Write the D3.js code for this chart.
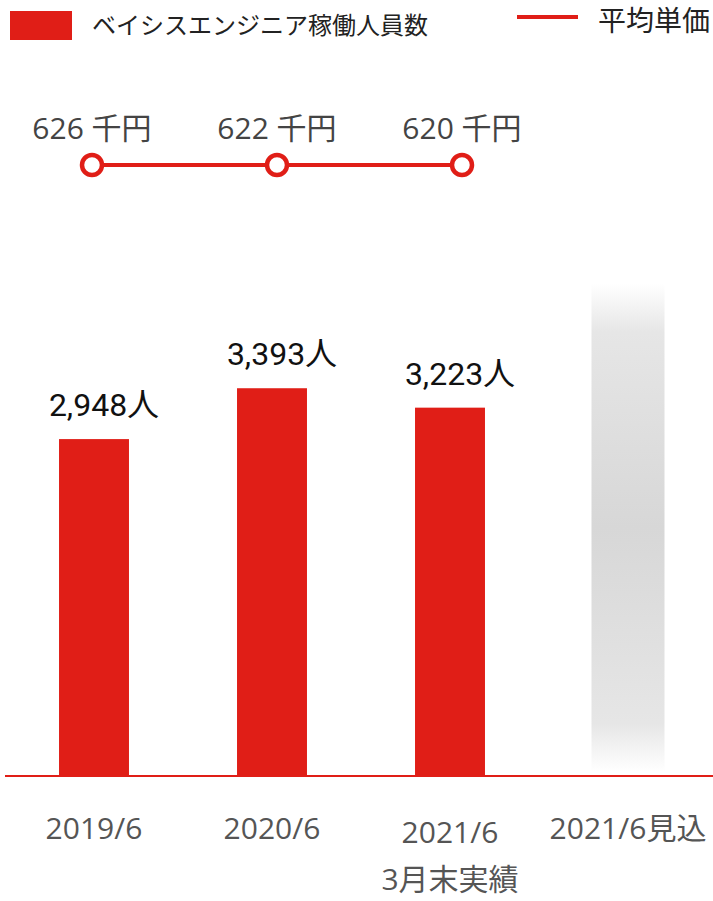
<!DOCTYPE html>
<html><head><meta charset="utf-8">
<script src="https://cdn.jsdelivr.net/npm/d3@7"></script>
<style>
html,body{margin:0;padding:0;background:#fff;}
svg{display:block;}
</style>
</head><body>
<svg id="chart" width="713" height="901"></svg>
<script>
const categories = ["2019/6", "2020/6", "2021/6", "2021/6見込"];
const categorySubLabels = ["", "", "3月末実績", ""];
const headcount = [2948, 3393, 3223, null];
const placeholder = [null, null, null, 4310];
const priceCategories = ["2019/6", "2020/6", "2021/6"];
const unitPrice = [626, 622, 620];
const legendLabels = ["ベイシスエンジニア稼働人員数", "平均単価"];

const RED = "#e01e17";
const JP = "'Noto Sans CJK JP','Noto Sans',sans-serif";

const svg = d3.select("#chart");
const defs = svg.append("defs");
const g1 = defs.append("linearGradient").attr("id","fade").attr("x1",0).attr("y1",0).attr("x2",0).attr("y2",1);
[[0,"#ffffff",1],[0.1,"#e6e6e6",1],[0.5,"#d7d7d7",1],[0.9,"#e6e6e6",1],[1,"#ffffff",1]].forEach(s=>{
  g1.append("stop").attr("offset",s[0]).attr("stop-color",s[1]).attr("stop-opacity",s[2]);
});

const x = d3.scaleBand().domain(categories).range([5, 717]).paddingInner(0.607).paddingOuter(0.3035);
const y = d3.scaleLinear().domain([0, 6790]).range([776, 0]);

// placeholder bar
svg.append("g").selectAll("rect").data(categories.map((c,i)=>({c,v:placeholder[i]})).filter(d=>d.v!=null))
  .join("rect")
  .attr("x", d => x(d.c) + x.bandwidth()/2 - 36.5)
  .attr("width", 73)
  .attr("y", d => y(d.v))
  .attr("height", d => y(0) - y(d.v) - 4)
  .attr("fill", "url(#fade)");

// bars
const barData = categories.map((c,i)=>({c,v:headcount[i]})).filter(d=>d.v!=null);
svg.append("g").selectAll("rect").data(barData).join("rect")
  .attr("x", d => x(d.c)).attr("width", x.bandwidth())
  .attr("y", d => y(d.v)).attr("height", d => y(0) - y(d.v))
  .attr("fill", RED);

// bar labels
svg.append("g").selectAll("text").data(barData).join("text")
  .attr("x", d => x(d.c) + x.bandwidth()/2 + 10)
  .attr("y", d => y(d.v) - 23)
  .attr("text-anchor","middle")
  .attr("font-family","Roboto, 'Noto Sans CJK JP', sans-serif")
  .attr("font-size", 32)
  .attr("fill","#111")
  .text(d => d3.format(",")(d.v) + "人");

// baseline axis
const xAxis = d3.axisBottom(x).tickSize(0).tickFormat("");
const ax = svg.append("g").attr("transform", `translate(0,${y(0)})`).call(xAxis);
ax.select(".domain").attr("stroke", RED).attr("stroke-width", 2).attr("d", "M5,0H713");

// x labels
const xl = svg.append("g").attr("font-family", "'Open Sans'," + JP).attr("font-size", 30).attr("fill","#555").attr("text-anchor","middle");
categories.forEach((c,i)=>{
  xl.append("text").attr("x", x(c) + x.bandwidth()/2).attr("y", categorySubLabels[i] ? 843 : 839).text(c);
  if (categorySubLabels[i]) xl.append("text").attr("x", x(c) + x.bandwidth()/2).attr("y", 890).text(categorySubLabels[i]);
});

// price line
const xp = d3.scalePoint().domain(priceCategories).range([92, 462]);
const lineY = 165;
const line = d3.line().x(d => xp(d.c)).y(() => lineY);
const priceData = priceCategories.map((c,i)=>({c,v:unitPrice[i]}));
svg.append("path").datum(priceData).attr("d", line).attr("fill","none").attr("stroke",RED).attr("stroke-width",4);
svg.append("g").selectAll("circle").data(priceData).join("circle")
  .attr("cx", d => xp(d.c)).attr("cy", lineY).attr("r", 10)
  .attr("fill","#fff").attr("stroke",RED).attr("stroke-width",4.5);
svg.append("g").selectAll("text").data(priceData).join("text")
  .attr("x", d => xp(d.c)).attr("y", 139)
  .attr("text-anchor","middle")
  .attr("font-family", "'Open Sans'," + JP).attr("font-size", 30).attr("fill","#444")
  .text(d => d.v + " 千円");

// legend
svg.append("rect").attr("x",10).attr("y",11).attr("width",62).attr("height",29).attr("fill",RED);
svg.append("text").attr("x",92).attr("y",34).attr("font-family",JP).attr("font-size",24).attr("fill","#222").text(legendLabels[0]);
svg.append("line").attr("x1",517).attr("x2",578).attr("y1",17).attr("y2",17).attr("stroke",RED).attr("stroke-width",4);
svg.append("text").attr("x",598).attr("y",31).attr("font-family",JP).attr("font-size",28).attr("fill","#222").text(legendLabels[1]);
</script>
</body></html>
